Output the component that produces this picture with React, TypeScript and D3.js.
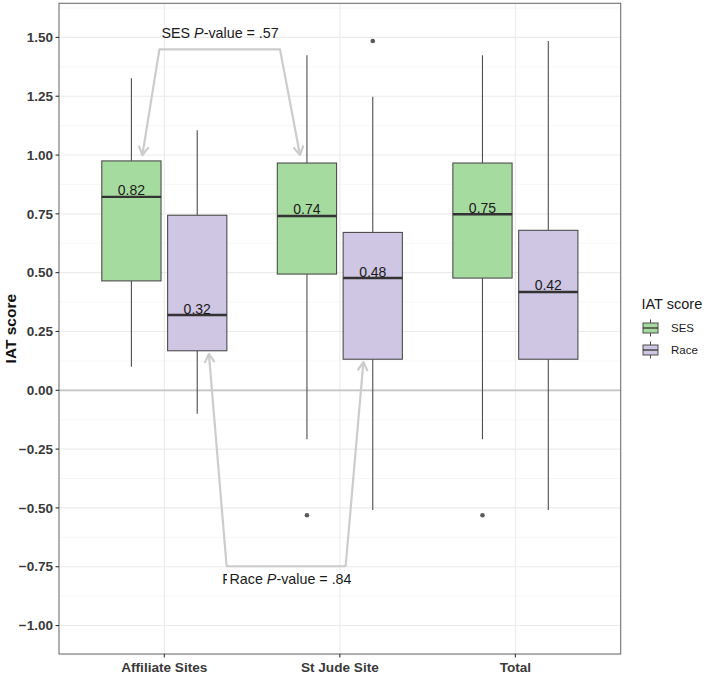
import React from "react";
import * as d3 from "d3";

const categories = ["Affiliate Sites", "St Jude Site", "Total"];
const groups = ["SES", "Race"];
const groupColors = ["#a6dba0", "#cfc6e3"];

// [whiskerLow, q1, median, q3, whiskerHigh]
const sesStats = [
  [0.10, 0.465, 0.822, 0.975, 1.326],
  [-0.208, 0.494, 0.741, 0.966, 1.424],
  [-0.208, 0.477, 0.748, 0.966, 1.424],
];
const raceStats = [
  [-0.10, 0.168, 0.32, 0.744, 1.105],
  [-0.509, 0.132, 0.477, 0.671, 1.248],
  [-0.509, 0.132, 0.418, 0.680, 1.485],
];
const sesOutliers = [[], [-0.531], [-0.531]];
const raceOutliers = [[], [1.485], []];
const medianLabels = [
  ["0.82", "0.32"],
  ["0.74", "0.48"],
  ["0.75", "0.42"],
];
const yTicks = [1.5, 1.25, 1.0, 0.75, 0.5, 0.25, 0, -0.25, -0.5, -0.75, -1.0];
const yMinor = [1.625, 1.375, 1.125, 0.875, 0.625, 0.375, 0.125, -0.125, -0.375, -0.625, -0.875, -1.125];

// annotation brackets (x in category units, 1-based; y in data units)
const sesBracket = { y: 1.449, x1: 0.972, x2: 1.659, tip1: [0.875, 1.0], tip2: [1.773, 1.0] };
const raceBracket = { y: -0.748, x1: 1.355, x2: 2.033, tip1: [1.254, 0.155], tip2: [2.134, 0.12] };

const W = 709;
const H = 675;
const panel = { left: 59, right: 620.7, top: 3.3, bottom: 654 };
const FONT = "'Liberation Sans', Arial, Helvetica, sans-serif";

export default function App() {
  const x = d3
    .scalePoint<string>()
    .domain(categories)
    .range([panel.left, panel.right])
    .padding(0.6);
  const step = x.step();
  const xu = (u: number) => (x(categories[0]) as number) + (u - 1) * step;
  const y = d3.scaleLinear().domain([-1.121, 1.645]).range([panel.bottom, panel.top]);

  const boxW = 0.3375 * step;
  const dodge = 0.1875 * step;

  const arrowHead = (fx: number, fy: number, tx: number, ty: number) => {
    const ang = Math.atan2(ty - fy, tx - fx);
    const len = 10;
    const spread = (30 * Math.PI) / 180;
    const a1 = ang + Math.PI - spread;
    const a2 = ang + Math.PI + spread;
    return `M${tx + len * Math.cos(a1)},${ty + len * Math.sin(a1)} L${tx},${ty} L${tx + len * Math.cos(a2)},${ty + len * Math.sin(a2)}`;
  };

  const bracket = (b: typeof sesBracket) => {
    const by = y(b.y);
    const p1 = [xu(b.x1), by];
    const p2 = [xu(b.x2), by];
    const t1 = [xu(b.tip1[0]), y(b.tip1[1])];
    const t2 = [xu(b.tip2[0]), y(b.tip2[1])];
    return (
      <g stroke="#cccccc" strokeWidth={2.2} fill="none" strokeLinejoin="round">
        <path d={`M${t1[0]},${t1[1]} L${p1[0]},${p1[1]} L${p2[0]},${p2[1]} L${t2[0]},${t2[1]}`} />
        <path d={arrowHead(p1[0], p1[1], t1[0], t1[1])} />
        <path d={arrowHead(p2[0], p2[1], t2[0], t2[1])} />
      </g>
    );
  };

  const renderBox = (stats: number[], outl: number[], cx: number, fill: string, label: string, key: string) => {
    const [lo, q1, med, q3, hi] = stats;
    return (
      <g key={key}>
        <line x1={cx} x2={cx} y1={y(hi)} y2={y(q3)} stroke="#4d4d4d" strokeWidth={1.1} />
        <line x1={cx} x2={cx} y1={y(q1)} y2={y(lo)} stroke="#4d4d4d" strokeWidth={1.1} />
        <rect x={cx - boxW / 2} y={y(q3)} width={boxW} height={y(q1) - y(q3)} fill={fill} stroke="#4d4d4d" strokeWidth={1.1} />
        <line x1={cx - boxW / 2} x2={cx + boxW / 2} y1={y(med)} y2={y(med)} stroke="#333333" strokeWidth={2.4} />
        {outl.map((o, i) => (
          <circle key={i} cx={cx} cy={y(o)} r={2.3} fill="#5a5a5a" />
        ))}
        <text x={cx} y={y(med) - 1.5} textAnchor="middle" fontSize={14} fill="#1a1a1a" fontFamily={FONT}>
          {label}
        </text>
      </g>
    );
  };

  return (
    <svg width={W} height={H} style={{ position: "absolute", left: 0, top: 0, background: "#fff" }} fontFamily={FONT}>
      <defs>
        <clipPath id="fclip">
          <rect x={221} y={560} width={6} height={30} />
        </clipPath>
      </defs>
      <rect x={0} y={0} width={W} height={H} fill="#ffffff" />
      {/* grid */}
      {yMinor.map((t) => (
        <line key={"mn" + t} x1={panel.left} x2={panel.right} y1={y(t)} y2={y(t)} stroke="#f2f2f2" strokeWidth={0.6} />
      ))}
      {yTicks.map((t) => (
        <line key={"mj" + t} x1={panel.left} x2={panel.right} y1={y(t)} y2={y(t)} stroke="#ebebeb" strokeWidth={1.1} />
      ))}
      {categories.map((c) => (
        <line key={"vx" + c} x1={x(c)} x2={x(c)} y1={panel.top} y2={panel.bottom} stroke="#ebebeb" strokeWidth={1.1} />
      ))}
      {/* zero line */}
      <line x1={panel.left} x2={panel.right} y1={y(0)} y2={y(0)} stroke="#c4c4c4" strokeWidth={1.8} />

      {/* boxes */}
      {categories.map((c, i) => {
        const cx = x(c) as number;
        return (
          <g key={c}>
            {renderBox(sesStats[i], sesOutliers[i], cx - dodge, groupColors[0], medianLabels[i][0], "s")}
            {renderBox(raceStats[i], raceOutliers[i], cx + dodge, groupColors[1], medianLabels[i][1], "r")}
          </g>
        );
      })}

      {/* annotations */}
      {bracket(sesBracket)}
      {bracket(raceBracket)}
      <text x={161.5} y={38} fontSize={14.3} fill="#1a1a1a">
        SES <tspan fontStyle="italic">P</tspan>-value = .57
      </text>
      <text x={222.3} y={584} fontSize={14.3} fill="#1a1a1a" clipPath="url(#fclip)">F</text>
      <text x={229.5} y={584} fontSize={14.3} fill="#1a1a1a">
        Race <tspan fontStyle="italic">P</tspan>-value = .84
      </text>

      {/* panel border */}
      <rect x={panel.left} y={panel.top} width={panel.right - panel.left} height={panel.bottom - panel.top} fill="none" stroke="#707070" strokeWidth={1.1} />

      {/* y axis */}
      {yTicks.map((t) => (
        <g key={"yt" + t}>
          <line x1={panel.left - 3.5} x2={panel.left} y1={y(t)} y2={y(t)} stroke="#333" strokeWidth={1.1} />
          <text x={panel.left - 6} y={y(t)} dy="0.35em" textAnchor="end" fontSize={13.5} fontWeight="bold" fill="#3a3a3a">
            {d3.format(".2f")(t)}
          </text>
        </g>
      ))}
      <text transform={`translate(16,${(panel.top + panel.bottom) / 2}) rotate(-90)`} textAnchor="middle" fontSize={15.5} fontWeight="bold" fill="#111">
        IAT score
      </text>

      {/* x axis */}
      {categories.map((c) => (
        <g key={"xt" + c}>
          <line x1={x(c)} x2={x(c)} y1={panel.bottom} y2={panel.bottom + 3.5} stroke="#333" strokeWidth={1.1} />
          <text x={x(c)} y={671.5} textAnchor="middle" fontSize={13.6} fontWeight="bold" fill="#3a3a3a">
            {c}
          </text>
        </g>
      ))}

      {/* legend */}
      <text x={641.5} y={309} fontSize={14.5} fill="#1a1a1a">IAT score</text>
      {groups.map((g, i) => {
        const cy = 328 + i * 22;
        const kx = 650.5;
        return (
          <g key={g}>
            <line x1={kx} x2={kx} y1={cy - 8.5} y2={cy + 8.5} stroke="#4d4d4d" strokeWidth={1} />
            <rect x={kx - 7.5} y={cy - 5} width={15} height={10} fill={groupColors[i]} stroke="#4d4d4d" strokeWidth={1} />
            <line x1={kx - 7.5} x2={kx + 7.5} y1={cy} y2={cy} stroke="#333" strokeWidth={1.3} />
            <text x={671} y={cy} dy="0.35em" fontSize={11.5} fill="#1a1a1a">{g}</text>
          </g>
        );
      })}
    </svg>
  );
}
